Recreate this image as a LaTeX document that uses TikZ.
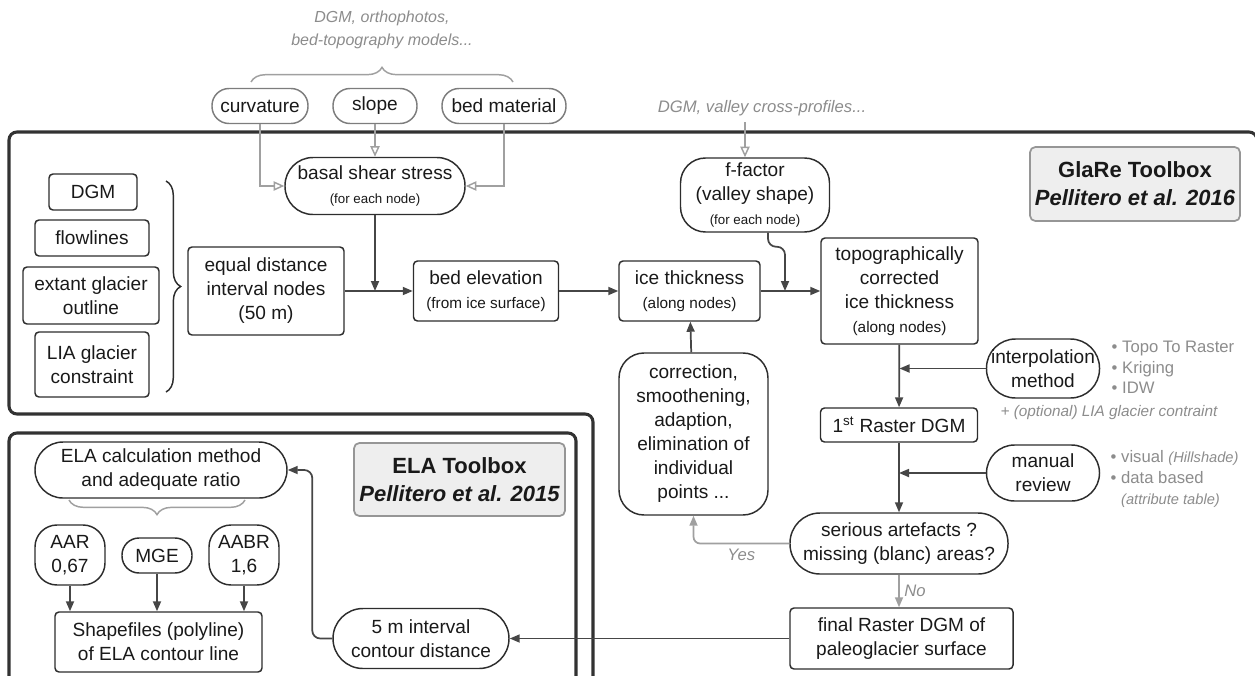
\documentclass[tikz,border=0pt]{standalone}
\usepackage{fontspec}
\setmainfont{Liberation Sans}
\usetikzlibrary{arrows.meta,decorations.pathreplacing}
\newcommand{\mainf}{\fontsize{14.3}{18}\selectfont}
\newcommand{\subf}{\fontsize{11.5}{14}\selectfont}
\newcommand{\tinyf}{\fontsize{10}{12}\selectfont}
\newcommand{\notef}{\fontsize{12.5}{15.4}\selectfont}

\begin{document}
\begin{tikzpicture}[x=0.75pt, y=-0.75pt, font=\mainf,
		>={Triangle[length=7.5pt, width=6pt]},
		sz/.style 2 args={minimum width=#1*0.75pt, minimum height=#2*0.75pt},
		box/.style={draw=lnclr, line width=1.1pt, rounded corners=3pt, align=center, text=txtclr, inner sep=1pt},
		pill/.style={box, rounded corners=#1*0.75pt},
		gpill/.style={pill=#1, draw=gbord},
		title/.style={draw=tgray, fill=tfill, line width=1.3pt, rounded corners=4pt, align=center, text=txtclr, font=\fontsize{16.5}{21}\selectfont\bfseries},
		gnote/.style={text=gtxt, font=\notef\itshape, align=center},
		arr/.style={->, draw=arrclr, line width=1.3pt},
		garr/.style={->, draw=gln, line width=1.3pt},
		oarr/.style={-{Triangle[open, length=8pt, width=7pt]}, draw=gln, line width=1.1pt},
		frame/.style={draw=frclr, line width=2.3pt, rounded corners=6pt},
		brc/.style={draw=#1, line width=1.1pt, decorate, decoration={brace, amplitude=11pt}}]
		\definecolor{lnclr}{RGB}{45,45,45}
		\definecolor{txtclr}{RGB}{25,25,25}
		\definecolor{arrclr}{RGB}{70,70,70}
		\definecolor{frclr}{RGB}{50,50,50}
		\definecolor{gln}{RGB}{160,160,160}
		\definecolor{gbord}{RGB}{125,125,125}
		\definecolor{gtxt}{RGB}{140,140,140}
		\definecolor{tfill}{RGB}{238,238,238}
		\definecolor{tgray}{RGB}{150,150,150}
		\useasboundingbox (0,0) rectangle (1255,675);
		
		% 外框
		\draw[frame] (593,690) -- (593,414) -- (9,414) -- (9,132) -- (1257,132) -- (1257,690);
		\draw[frame] (9,690) -- (9,433) -- (576,433) -- (576,690);
		
		% 顶部输入
		\node[gnote, font=\fontsize{12}{17}\selectfont\itshape] (srcA) at (382,30) {DGM, orthophotos,\\bed-topography models...};
		\draw[brc=gln] (251,82) -- (513,82);
		\node[gpill=17, sz={96}{35}] (curv) at (260,106) {curvature};
		\node[gpill=17, sz={84}{35}] (slope) at (375,106) {slope};
		\node[gpill=17, sz={124}{35}] (bedmat) at (504,106) {bed material};
		
		% 基底剪应力
		\node[pill=28, sz={180}{57}] (basal) at (375,186) {basal shear stress\\{\tinyf (for each node)}};
		\draw[oarr] (curv) |- (basal);
		\draw[oarr] (slope) -- (basal);
		\draw[oarr] (bedmat) |- (basal);
		
		% f-factor
		\node[gnote] (srcB) at (762,108) {DGM, valley cross-profiles...};
		\node[pill=25, sz={149}{74}] (ffac) at (755,195) {f-factor\\(valley shape)\\{\tinyf (for each node)}};
		\coordinate (fin) at (745,122);
		\draw[oarr] (fin) -- (fin |- ffac.north);
		\node[title, sz={210}{74}] (glare) at (1135,184) {GlaRe Toolbox\\{\itshape Pellitero et al. 2016}};
		
		% 左侧数据
		\node[box, sz={88}{36}] (dgm) at (93,192) {DGM};
		\node[box, sz={114}{36}] (flow) at (92,238) {flowlines};
		\node[box, sz={136}{57}] (extant) at (91,295.5) {extant glacier\\outline};
		\node[box, sz={114}{65}] (lia) at (92,364.5) {LIA glacier\\constraint};
		\draw[brc=lnclr] (166,181) -- (166,392);
		
		% 主流程
		\node[box, sz={156}{88}] (equal) at (266,291) {equal distance\\interval nodes\\(50 m)};
		\node[box, sz={145}{60}] (bedel) at (486,291) {bed elevation\\{\subf (from ice surface)}};
		\node[box, sz={141}{60}] (icethk) at (689.5,291) {ice thickness\\{\subf (along nodes)}};
		\node[box, sz={157}{106}] (topo) at (899.5,291) {topographically\\corrected\\ice thickness\\{\subf (along nodes)}};
		\coordinate (fjoin) at (785,291);
		\draw[arr] (equal) -- (bedel);
		\draw[arr] (basal) -- (basal |- equal.east);
		\draw[arr] (bedel) -- (icethk);
		\draw[arr] (icethk) -- (topo);
		\draw[arr, rounded corners=6pt] ([xshift=9.75pt]ffac.south) -- ++(0,14) -| (fjoin);
		
		% 修正
		\node[pill=25, sz={149}{162}] (correct) at (693.5,434) {correction,\\smoothening,\\adaption,\\elimination of\\individual\\points ...};
		\draw[arr] (correct) -- (icethk);
		
		% 插值与检查
		\node[pill=29, sz={113}{59}] (interp) at (1043,368.5) {interpolation\\method};
		\node[gnote, font=\notef, align=left, anchor=west] (kinds) at (1107,367.5) {• Topo To Raster\\• Kriging\\• IDW};
		\node[gnote, font=\fontsize{11.5}{14}\selectfont\itshape] (optn) at (1109,413) {+ (optional) LIA glacier contraint};
		\node[box, sz={157}{34}] (rast) at (899,425) {1\textsuperscript{st} Raster DGM};
		\draw[arr] (topo) -- (rast);
		\draw[arr] (interp) -- (interp -| topo.south);
		\node[pill=28, sz={113}{56}] (manual) at (1043,473) {manual\\review};
		\node[gnote, font=\notef, align=left, anchor=west] (checks) at (1106,479) {• visual {\itshape\fontsize{11}{14}\selectfont (Hillshade)}\\• data based\\\phantom{• }{\itshape\fontsize{11}{14}\selectfont (attribute table)}};
		\node[pill=30, sz={218}{61}] (serious) at (899,543.5) {serious artefacts ?\\missing (blanc) areas?};
		\draw[arr] (rast) -- (serious);
		\draw[arr] (manual) -- (manual -| rast.south);
		\node[box, sz={223}{61}] (final) at (901.5,638.5) {final Raster DGM of\\paleoglacier surface};
		\draw[garr] (serious) -- node[gnote, right] {No} (serious |- final.north);
		\draw[garr, rounded corners=5pt] (serious) -| node[gnote, pos=0.25, below] {Yes} (correct);
		
		% ELA 工具箱
		\node[title, sz={211}{73}] (elat) at (459.5,479.5) {ELA Toolbox\\{\itshape Pellitero et al. 2015}};
		\node[pill=28, sz={252}{56}] (elacalc) at (161,470) {ELA calculation method\\and adequate ratio};
		\draw[brc=gln] (245,500) -- (69,500);
		\node[pill=22, sz={70}{60}] (aar) at (70,555) {AAR\\0,67};
		\node[pill=17, sz={70}{35}] (mge) at (157,555.5) {MGE};
		\node[pill=22, sz={70}{60}] (aabr) at (244,555) {AABR\\1,6};
		\node[box, sz={207}{60}] (shape) at (158.5,642) {Shapefiles (polyline)\\of ELA contour line};
		\draw[arr] (aar) -- (aar |- shape.north);
		\draw[arr] (mge) -- (mge |- shape.north);
		\draw[arr] (aabr) -- (aabr |- shape.north);
		\node[pill=30, sz={176}{60}] (fivem) at (421,638.5) {5 m interval\\contour distance};
		\draw[arr] (final) -- (fivem);
		\draw[arr, rounded corners=6pt] (fivem.west) -- ++(-20,0) |- (elacalc);
	\end{tikzpicture}
\end{document}
